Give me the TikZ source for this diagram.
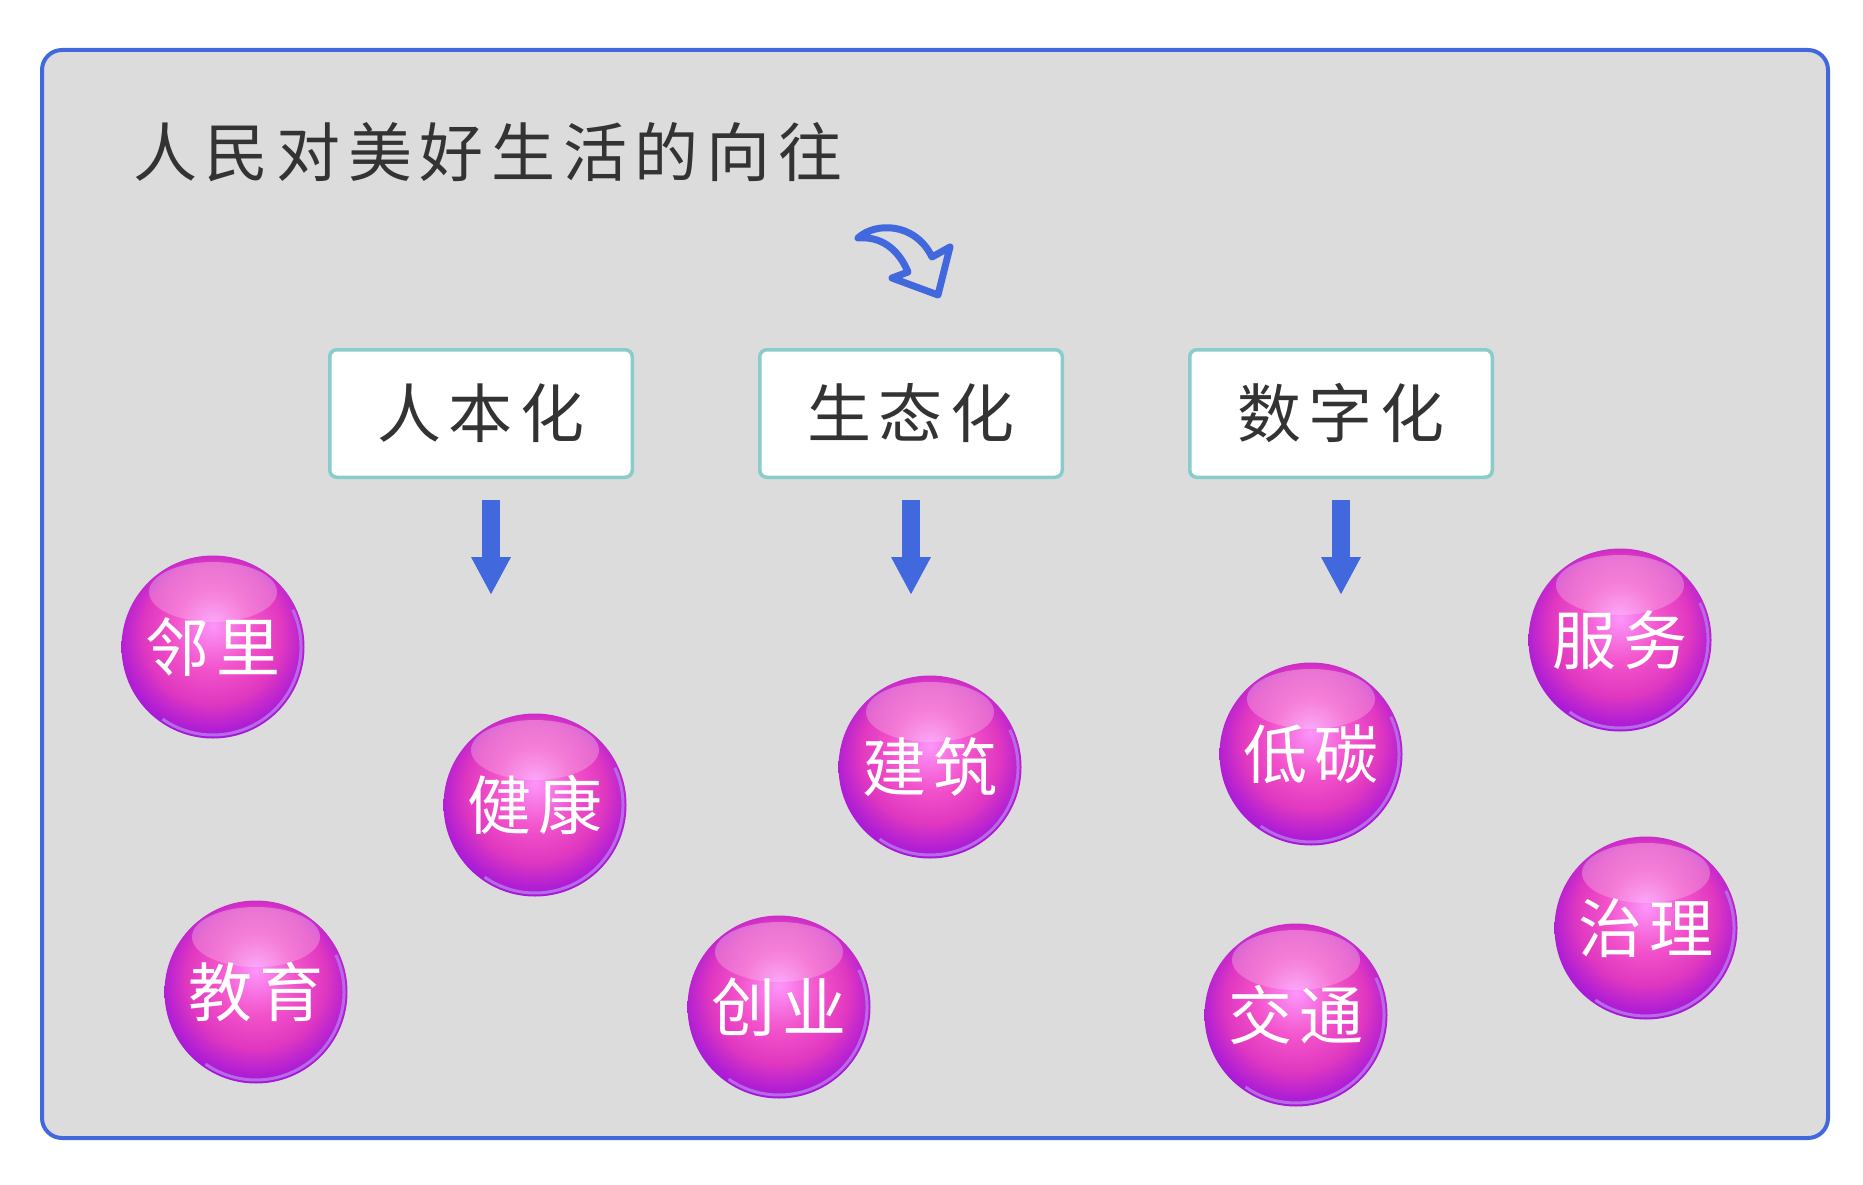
\documentclass[tikz,border=0pt]{standalone}
\usepackage{fontspec}
\newfontfamily\cjk[LetterSpace=12]{Noto Sans CJK SC}
\usetikzlibrary{arrows.meta,positioning,fadings}

\definecolor{frameblue}{HTML}{4169DD}
\definecolor{panelgray}{HTML}{DCDCDC}
\definecolor{boxteal}{HTML}{88CCCC}
\definecolor{textgray}{HTML}{333333}
\definecolor{orbrim}{HTML}{B868E8}
\definecolor{orbcore}{HTML}{FC96FA}
\definecolor{orbpink}{HTML}{F252CA}
\definecolor{orbmag}{HTML}{E038C0}
\definecolor{orbviolet}{HTML}{B420D2}
\definecolor{orbdeep}{HTML}{8A10E0}

\pgfdeclareradialshading{orb}{\pgfpoint{0bp}{6bp}}{%
  color(0bp)=(orbcore); color(11bp)=(orbpink); color(19bp)=(orbmag);
  color(25bp)=(orbviolet); color(31bp)=(orbdeep); color(50bp)=(orbdeep)}

\tikzset{
  bigtext/.style={font=\cjk\fontsize{64pt}{64pt}\selectfont},
  catbox/.style={rectangle, rounded corners=7pt, draw=boxteal, line width=3.5pt,
    fill=white, minimum width=302.5pt, minimum height=127.5pt, inner sep=0pt,
    text=textgray, bigtext},
  bubble/.style={circle, minimum size=183pt, inner sep=0pt, shading=orb,
    text=white, bigtext,
    path picture={
      \fill[white, fill opacity=.32, path fading=south]
        ([yshift=55pt]path picture bounding box.center) ellipse [x radius=64pt, y radius=30pt];
      \draw[orbrim, line width=3pt]
        ([shift={(25:88pt)}]path picture bounding box.center) arc [start angle=25, end angle=-125, radius=88pt];
    }},
  downarrow/.style={draw=frameblue, line width=18pt, -{Triangle[width=37pt,length=38pt]}},
}

\begin{document}
\begin{tikzpicture}[x=1pt,y=-1pt]
  \useasboundingbox (0,0) rectangle (1863,1185);
  \draw[line width=4pt, draw=frameblue, fill=panelgray, rounded corners=20pt]
    (42,50) rectangle (1828,1138);

  \node[anchor=west, inner sep=0pt, text=textgray, bigtext] (title) at (133,152) {人民对美好生活的向往};

  % curved arrow under the title
  \draw[frameblue, line width=7pt, line join=round]
    (858,238) .. controls (875,222) and (915,222) .. (932,257) -- (950,247) -- (938,295)
    -- (892,278) -- (908,272) .. controls (898,248) and (880,236) .. cycle;

  \begin{scope}[node distance=124pt, every node/.style={catbox}]
    \node (rbh) at (481,413.5) {人本化};
    \node (sth) [right=of rbh] {生态化};
    \node (szh) [right=of sth] {数字化};
  \end{scope}

  \draw[downarrow] ([xshift=10pt,yshift=-21pt]rbh.south) -- ++(0,95);
  \draw[downarrow] ([yshift=-21pt]sth.south) -- ++(0,95);
  \draw[downarrow] ([yshift=-21pt]szh.south) -- ++(0,95);

  \begin{scope}[every node/.style={bubble}]
    \node (ll) at (213,647) {邻里};
    \node (jk) at (535,805) {健康};
    \node (jy) at (256,992) {教育};
    \node (jz) at (930,767) {建筑};
    \node (cy) at (779,1007) {创业};
    \node (dt) at (1311,754) {低碳};
    \node (jt) at (1296,1015) {交通};
    \node (fw) at (1620,640) {服务};
    \node (zl) at (1646,928) {治理};
  \end{scope}
\end{tikzpicture}
\end{document}
